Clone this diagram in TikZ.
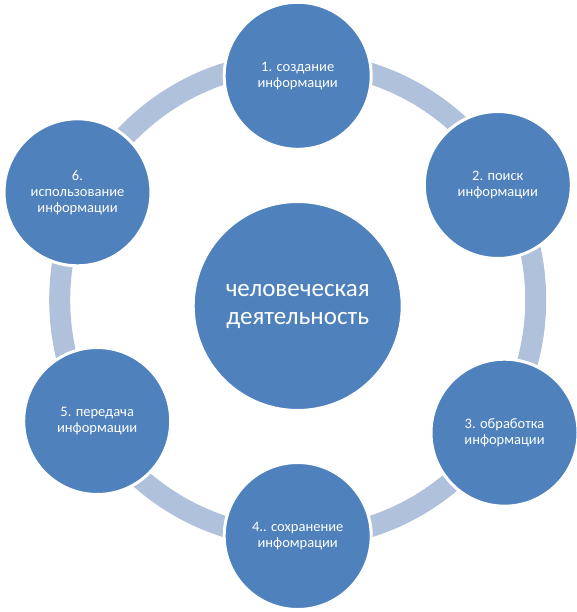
\documentclass[tikz,border=0pt]{standalone}
\usepackage{fontspec}
\setmainfont{Carlito}
\definecolor{nodeblue}{HTML}{4F81BD}
\definecolor{ringblue}{HTML}{B0C1DC}
\begin{document}
\begin{tikzpicture}[x=1pt,y=-1pt,
  bub/.style={circle, fill=nodeblue, draw=white, line width=3pt, minimum size=147pt,
    inner sep=0pt, text=white, align=center, font=\fontsize{14.5}{16}\selectfont},
  hub/.style={bub, minimum size=209pt, font=\fontsize{25}{28}\selectfont},
  ring/.style={draw=ringblue, line width=21pt}]
\useasboundingbox (0,0) rectangle (577,612);
\coordinate (rc) at (297.7,300);
\draw[ring] (rc) circle (238pt);
\node[hub] (hub) at (297.7,306) {человеческая\\деятельность};
\node[bub] (n1) at (297.7,75.8) {1. создание\\информации};
\node[bub] (n2) at (497.8,185) {2. поиск\\информации};
\node[bub] (n3) at (504.5,432.7) {3. обработка\\информации};
\node[bub] (n4) at (297.7,536) {4.. сохранение\\инфомрации};
\node[bub] (n5) at (97.2,421) {5. передача\\информации};
\node[bub] (n6) at (77.5,192.3) {6.\\использование\\информации};
\end{tikzpicture}
\end{document}
